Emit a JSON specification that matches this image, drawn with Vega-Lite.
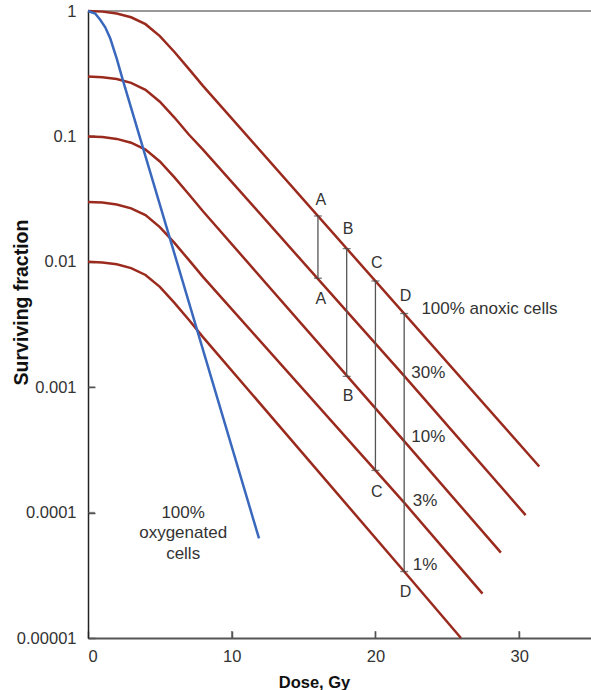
{
  "$schema": "https://vega.github.io/schema/vega-lite/v6.json",
  "width": 503,
  "height": 627,
  "autosize": "none",
  "padding": {"left": 88, "top": 11, "right": 0, "bottom": 52},
  "background": "white",
  "config": {
    "view": {"stroke": null},
    "font": "Liberation Sans",
    "axis": {"grid": false, "labelFont": "Liberation Sans", "titleFont": "Liberation Sans", "labelFontSize": 16.5, "labelColor": "#333333", "titleColor": "#111111", "titleFontWeight": "bold", "titleFontSize": 16.5}
  },
  "datasets": {
    "curves": [
      {"series": "100%", "dose": 0, "sf": 1},
      {"series": "100%", "dose": 1, "sf": 0.9886},
      {"series": "100%", "dose": 2, "sf": 0.955},
      {"series": "100%", "dose": 3, "sf": 0.891},
      {"series": "100%", "dose": 4, "sf": 0.785},
      {"series": "100%", "dose": 5, "sf": 0.631},
      {"series": "100%", "dose": 6, "sf": 0.473},
      {"series": "100%", "dose": 7, "sf": 0.347},
      {"series": "100%", "dose": 8, "sf": 0.253},
      {"series": "100%", "dose": 31.4, "sf": 0.000233},
      {"series": "30%", "dose": 0, "sf": 0.3},
      {"series": "30%", "dose": 1, "sf": 0.2966},
      {"series": "30%", "dose": 2, "sf": 0.2865},
      {"series": "30%", "dose": 3, "sf": 0.267},
      {"series": "30%", "dose": 4, "sf": 0.2355},
      {"series": "30%", "dose": 5, "sf": 0.189},
      {"series": "30%", "dose": 6, "sf": 0.142},
      {"series": "30%", "dose": 7, "sf": 0.104},
      {"series": "30%", "dose": 8, "sf": 0.0785},
      {"series": "30%", "dose": 22, "sf": 0.00123},
      {"series": "30%", "dose": 30.45, "sf": 0.0000955},
      {"series": "10%", "dose": 0, "sf": 0.1},
      {"series": "10%", "dose": 1, "sf": 0.0989},
      {"series": "10%", "dose": 2, "sf": 0.0955},
      {"series": "10%", "dose": 3, "sf": 0.0891},
      {"series": "10%", "dose": 4, "sf": 0.0785},
      {"series": "10%", "dose": 5, "sf": 0.0631},
      {"series": "10%", "dose": 6, "sf": 0.0473},
      {"series": "10%", "dose": 7, "sf": 0.0347},
      {"series": "10%", "dose": 8, "sf": 0.0253},
      {"series": "10%", "dose": 22, "sf": 0.000372},
      {"series": "10%", "dose": 28.73, "sf": 0.0000479},
      {"series": "3%", "dose": 0, "sf": 0.03},
      {"series": "3%", "dose": 1, "sf": 0.02966},
      {"series": "3%", "dose": 2, "sf": 0.02865},
      {"series": "3%", "dose": 3, "sf": 0.0267},
      {"series": "3%", "dose": 4, "sf": 0.02355},
      {"series": "3%", "dose": 5, "sf": 0.0189},
      {"series": "3%", "dose": 6, "sf": 0.0142},
      {"series": "3%", "dose": 7, "sf": 0.0104},
      {"series": "3%", "dose": 8, "sf": 0.00759},
      {"series": "3%", "dose": 22, "sf": 0.00012},
      {"series": "3%", "dose": 27.45, "sf": 0.0000226},
      {"series": "1%", "dose": 0, "sf": 0.01},
      {"series": "1%", "dose": 1, "sf": 0.00989},
      {"series": "1%", "dose": 2, "sf": 0.00955},
      {"series": "1%", "dose": 3, "sf": 0.00891},
      {"series": "1%", "dose": 4, "sf": 0.00785},
      {"series": "1%", "dose": 5, "sf": 0.00631},
      {"series": "1%", "dose": 6, "sf": 0.00473},
      {"series": "1%", "dose": 7, "sf": 0.00347},
      {"series": "1%", "dose": 8, "sf": 0.00251},
      {"series": "1%", "dose": 22, "sf": 0.0000339},
      {"series": "1%", "dose": 25.95, "sf": 0.00001}
    ],
    "oxic": [
      {"dose": 0, "sf": 1},
      {"dose": 0.5, "sf": 0.955},
      {"dose": 0.85, "sf": 0.851},
      {"dose": 1.2, "sf": 0.741},
      {"dose": 1.55, "sf": 0.603},
      {"dose": 2.0, "sf": 0.417},
      {"dose": 2.4, "sf": 0.288},
      {"dose": 11.9, "sf": 0.0000622}
    ],
    "brackets": [
      {"dose": 16, "top": 0.0232, "bottom": 0.0074},
      {"dose": 18, "top": 0.01276, "bottom": 0.00122},
      {"dose": 20, "top": 0.00703, "bottom": 0.000217},
      {"dose": 22, "top": 0.00387, "bottom": 0.0000339}
    ],
    "caps": [
      {"dose": 16, "sf": 0.0232}, {"dose": 16, "sf": 0.0074},
      {"dose": 18, "sf": 0.01276}, {"dose": 18, "sf": 0.00122},
      {"dose": 20, "sf": 0.00703}, {"dose": 20, "sf": 0.000217},
      {"dose": 22, "sf": 0.00387}, {"dose": 22, "sf": 0.0000339}
    ],
    "xticks": [
      {"dose": 10, "sf": 0.00001}, {"dose": 20, "sf": 0.00001}, {"dose": 30, "sf": 0.00001}
    ],
    "yticks": [
      {"dose": 0, "sf": 0.1}, {"dose": 0, "sf": 0.01}, {"dose": 0, "sf": 0.001}, {"dose": 0, "sf": 0.0001}
    ],
    "letters": [
      {"label": "A", "dose": 16.2, "sf": 0.0312},
      {"label": "A", "dose": 16.2, "sf": 0.00506},
      {"label": "B", "dose": 18.1, "sf": 0.0182},
      {"label": "B", "dose": 18.1, "sf": 0.000851},
      {"label": "C", "dose": 20.1, "sf": 0.00975},
      {"label": "C", "dose": 20.1, "sf": 0.000147},
      {"label": "D", "dose": 22.1, "sf": 0.00535},
      {"label": "D", "dose": 22.1, "sf": 0.0000233}
    ],
    "curveLabels": [
      {"label": "100% anoxic cells", "dose": 23.2, "sf": 0.00418},
      {"label": "30%", "dose": 22.5, "sf": 0.0013},
      {"label": "10%", "dose": 22.5, "sf": 0.000403},
      {"label": "3%", "dose": 22.6, "sf": 0.000124},
      {"label": "1%", "dose": 22.6, "sf": 0.0000381}
    ],
    "oxicLabel": [
      {"label": "100%\noxygenated\ncells", "dose": 6.62, "sf": 0.0001}
    ]
  },
  "encoding": {
    "x": {"field": "dose", "type": "quantitative", "scale": {"domain": [0, 35], "nice": false},
      "axis": {"values": [0, 10, 20, 30], "title": "Dose, Gy", "domainColor": "#555555", "domainWidth": 2, "tickColor": "#555555", "tickWidth": 1.5, "tickSize": -7, "labelPadding": 17, "titleX": 226, "titleY": 49, "titleBaseline": "alphabetic", "titleAlign": "center"}},
    "y": {"field": "sf", "type": "quantitative", "scale": {"type": "log", "domain": [0.00001, 1], "nice": false},
      "axis": {"values": [1, 0.1, 0.01, 0.001, 0.0001, 0.00001], "labelExpr": "format(datum.value, '.5~f')", "title": "Surviving fraction", "domainColor": "#222222", "domainWidth": 1.5, "tickColor": "#555555", "tickWidth": 1.5, "tickSize": -7, "labelPadding": 19, "titleX": -67, "titleY": 291, "titleAngle": 270, "titleAlign": "center", "titleBaseline": "middle", "titleFontSize": 19.5}}
  },
  "layer": [
    {
      "data": {"values": [{"v": 1}]},
      "mark": {"type": "rule", "color": "#999999", "strokeWidth": 2},
      "encoding": {"x": null, "y": {"field": "v", "type": "quantitative"}}
    },
    {
      "data": {"name": "xticks"},
      "mark": {"type": "tick", "orient": "vertical", "color": "#555555", "size": 7, "thickness": 1.5, "yOffset": -3.5},
      "encoding": {}
    },
    {
      "data": {"name": "yticks"},
      "mark": {"type": "tick", "orient": "horizontal", "color": "#555555", "size": 7, "thickness": 1.5, "xOffset": 3.5},
      "encoding": {}
    },
    {
      "data": {"name": "curves"},
      "mark": {"type": "line", "color": "#9b2a1e", "strokeWidth": 2.5},
      "encoding": {"detail": {"field": "series"}, "order": {"field": "dose"}}
    },
    {
      "data": {"name": "oxic"},
      "mark": {"type": "line", "color": "#3a68bd", "strokeWidth": 2.5},
      "encoding": {"order": {"field": "dose"}}
    },
    {
      "data": {"name": "brackets"},
      "mark": {"type": "rule", "color": "#555555", "strokeWidth": 1.3},
      "encoding": {"y": {"field": "top", "type": "quantitative"}, "y2": {"field": "bottom"}}
    },
    {
      "data": {"name": "caps"},
      "mark": {"type": "tick", "orient": "horizontal", "color": "#444444", "size": 8, "thickness": 1.3},
      "encoding": {}
    },
    {
      "data": {"name": "letters"},
      "mark": {"type": "text", "fontSize": 16, "color": "#333333", "align": "center", "baseline": "middle"},
      "encoding": {"text": {"field": "label"}}
    },
    {
      "data": {"name": "curveLabels"},
      "mark": {"type": "text", "fontSize": 17, "color": "#333333", "align": "left", "baseline": "middle"},
      "encoding": {"text": {"field": "label"}}
    },
    {
      "data": {"name": "oxicLabel"},
      "mark": {"type": "text", "fontSize": 17, "color": "#333333", "align": "center", "baseline": "middle", "lineBreak": "\n", "lineHeight": 20.5},
      "encoding": {"text": {"field": "label"}}
    }
  ]
}
